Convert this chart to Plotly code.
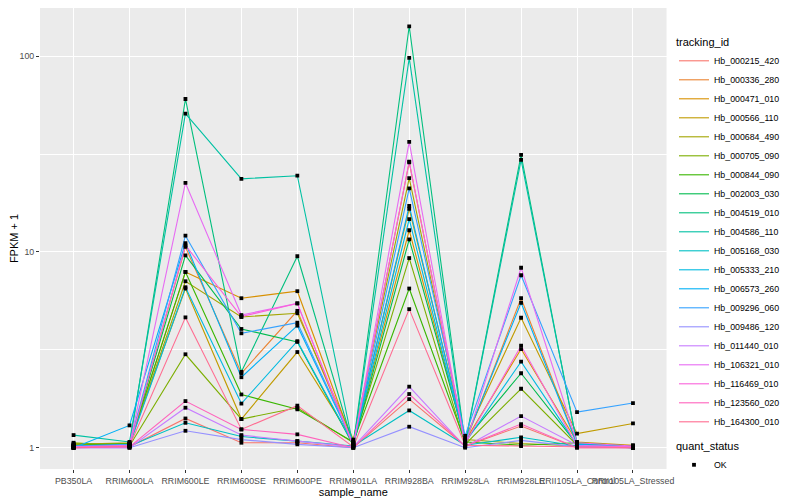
import plotly.graph_objects as go

samples = ["PB350LA", "RRIM600LA", "RRIM600LE", "RRIM600SE", "RRIM600PE", "RRIM901LA",
           "RRIM928BA", "RRIM928LA", "RRIM928LE", "RRII105LA_Control", "RRII105LA_Stressed"]

tracking_ids = ["Hb_000215_420", "Hb_000336_280", "Hb_000471_010", "Hb_000566_110", "Hb_000684_490",
                "Hb_000705_090", "Hb_000844_090", "Hb_002003_030", "Hb_004519_010", "Hb_004586_110",
                "Hb_005168_030", "Hb_005333_210", "Hb_006573_260", "Hb_009296_060", "Hb_009486_120",
                "Hb_011440_010", "Hb_106321_010", "Hb_116469_010", "Hb_123560_020", "Hb_164300_010"]

colors = ["#F8766D", "#EA8331", "#D89000", "#C09B00", "#A3A500", "#7CAE00", "#39B600", "#00BB4E",
          "#00BF7D", "#00C1A3", "#00BFC4", "#00BAE0", "#00B0F6", "#35A2FF", "#9590FF", "#C77CFF",
          "#E76BF3", "#FA62DB", "#FF62BC", "#FF6C91"]

Hb_000215_420 = [1.00, 1.01, 1.41, 1.06, 1.06, 1.00, 1.77, 1.02, 1.29, 1.00, 1.00]
Hb_000336_280 = [1.02, 1.03, 10.6, 2.40, 5.00, 1.04, 28.7, 1.06, 5.80, 1.05, 1.02]
Hb_000471_010 = [1.03, 1.05, 7.90, 5.80, 6.30, 1.05, 12.9, 1.08, 3.19, 1.07, 1.03]
Hb_000566_110 = [1.04, 1.06, 6.50, 1.40, 3.08, 1.08, 16.6, 1.12, 4.61, 1.18, 1.33]
Hb_000684_490 = [1.05, 1.04, 7.08, 4.65, 4.86, 1.10, 23.8, 1.10, 1.05, 1.02, 1.01]
Hb_000705_090 = [1.06, 1.02, 3.00, 1.40, 1.60, 1.06, 9.30, 1.04, 2.00, 1.03, 1.00]
Hb_000844_090 = [1.03, 1.05, 7.90, 1.87, 1.57, 1.07, 6.50, 1.07, 1.03, 1.06, 1.02]
Hb_002003_030 = [1.02, 1.04, 9.60, 4.04, 3.47, 1.03, 11.6, 1.09, 2.40, 1.04, 1.01]
Hb_004519_010 = [1.02, 1.03, 60.4, 2.44, 9.50, 1.03, 142.0, 1.05, 31.3, 1.04, 1.00]
Hb_004586_110 = [1.16, 1.07, 50.8, 23.6, 24.5, 1.02, 98.0, 1.04, 29.5, 1.05, 1.01]
Hb_005168_030 = [1.01, 1.02, 1.34, 1.14, 1.08, 1.02, 1.55, 1.03, 1.13, 1.02, 1.00]
Hb_005333_210 = [1.01, 1.03, 6.60, 1.68, 3.50, 1.04, 14.7, 1.06, 2.75, 1.03, 1.00]
Hb_006573_260 = [1.00, 1.30, 11.1, 2.29, 4.20, 1.05, 17.2, 1.08, 5.50, 1.04, 1.01]
Hb_009296_060 = [1.02, 1.04, 12.1, 3.84, 4.35, 1.06, 21.1, 1.15, 7.60, 1.52, 1.69]
Hb_009486_120 = [1.00, 1.00, 1.22, 1.10, 1.04, 1.00, 1.28, 1.00, 1.09, 1.01, 1.00]
Hb_011440_010 = [1.00, 1.00, 1.60, 1.16, 1.08, 1.01, 2.05, 1.01, 1.45, 1.03, 1.01]
Hb_106321_010 = [1.01, 1.03, 22.5, 4.76, 5.46, 1.02, 36.5, 1.03, 8.30, 1.06, 1.02]
Hb_116469_010 = [1.01, 1.02, 10.8, 4.67, 5.46, 1.03, 28.9, 1.05, 3.32, 1.02, 1.01]
Hb_123560_020 = [1.00, 1.01, 1.73, 1.24, 1.17, 1.00, 1.88, 1.02, 1.32, 1.00, 1.00]
Hb_164300_010 = [1.00, 1.02, 4.63, 1.24, 1.64, 1.01, 5.10, 1.03, 1.02, 1.01, 1.00]

series = [Hb_000215_420, Hb_000336_280, Hb_000471_010, Hb_000566_110, Hb_000684_490,
          Hb_000705_090, Hb_000844_090, Hb_002003_030, Hb_004519_010, Hb_004586_110,
          Hb_005168_030, Hb_005333_210, Hb_006573_260, Hb_009296_060, Hb_009486_120,
          Hb_011440_010, Hb_106321_010, Hb_116469_010, Hb_123560_020, Hb_164300_010]

FONT = "Liberation Sans, Arial, sans-serif"
W, H = 792, 492  # page body adds an 8px offset

fig = go.Figure()
for name, col, vals in zip(tracking_ids, colors, series):
    fig.add_trace(go.Scatter(x=samples, y=vals, mode="lines", name=name,
                             line=dict(color=col, width=1.1), legend="legend"))

all_x = [s for vals in series for s in samples]
all_y = [v for vals in series for v in vals]
fig.add_trace(go.Scatter(x=all_x, y=all_y, mode="markers", name="OK",
                         marker=dict(color="black", symbol="square", size=3.8),
                         legend="legend2"))

fig.update_layout(
    width=W, height=H,
    margin=dict(l=32, r=115, t=0, b=31, pad=0),
    paper_bgcolor="white", plot_bgcolor="#EBEBEB",
    font=dict(family=FONT, size=8.8, color="#4D4D4D"),
    showlegend=True,
    legend=dict(title=dict(text="tracking_id", font=dict(size=11, color="black")),
                font=dict(size=8.8, color="black"),
                xref="container", yref="container", x=666 / W, y=1 - 24 / H,
                xanchor="left", yanchor="top", bgcolor="rgba(0,0,0,0)", itemwidth=30,
                maxheight=440),
    legend2=dict(title=dict(text="quant_status", font=dict(size=11, color="black")),
                 font=dict(size=8.8, color="black"),
                 xref="container", yref="container", x=666 / W, y=1 - 428 / H,
                 xanchor="left", yanchor="top", bgcolor="rgba(0,0,0,0)", itemwidth=30,
                 maxheight=80),
)
fig.update_xaxes(type="category", categoryorder="array", categoryarray=samples,
                 range=[-0.6, len(samples) - 0.4], showgrid=True, gridcolor="white", gridwidth=1.1,
                 zeroline=False, ticks="outside", ticklen=3, tickcolor="#333333", tickangle=0,
                 tickfont=dict(size=8.8, color="#4D4D4D"),
                 title=dict(text="sample_name", font=dict(size=11, color="black"), standoff=0))
fig.update_yaxes(type="log", range=[-0.1088, 2.2457], tickvals=[1, 10, 100], ticktext=["1", "10", "100"],
                 showgrid=True, gridcolor="white", gridwidth=1.1, zeroline=False,
                 ticks="outside", ticklen=3, tickcolor="#333333",
                 tickfont=dict(size=8.8, color="#4D4D4D"),
                 minor=dict(tickvals=[3.1623, 31.623], showgrid=True, gridcolor="white", gridwidth=0.55,
                            ticks=""),
                 title=dict(text="FPKM + 1", font=dict(size=11, color="black"), standoff=3))

fig.write_html("out.html")
